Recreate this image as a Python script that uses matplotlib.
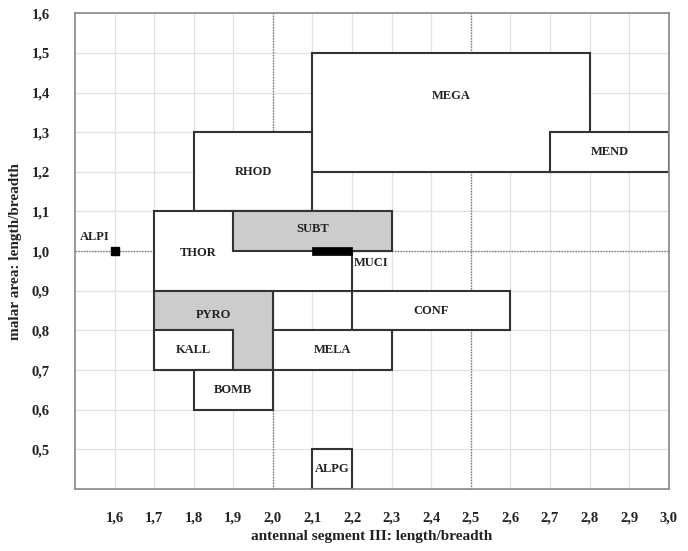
import matplotlib
matplotlib.use("Agg")
import matplotlib.pyplot as plt
from matplotlib.patches import Rectangle

plt.rcParams['font.family'] = ['Liberation Serif', 'DejaVu Serif']

# Boxes: name, x0, x1, y0, y1, fill
names = ["MEGA", "MEND", "RHOD", "THOR", "SUBT", "PYRO", "KALL", "CONF", "MELA", "BOMB", "ALPG"]
x_lo = [2.1, 2.7, 1.8, 1.7, 1.9, 1.7, 1.7, 2.2, 2.0, 1.8, 2.1]
x_hi = [2.8, 3.0, 2.1, 2.2, 2.3, 2.0, 1.9, 2.6, 2.3, 2.0, 2.2]
y_lo = [1.2, 1.2, 1.1, 0.9, 1.0, 0.7, 0.7, 0.8, 0.7, 0.6, 0.4]
y_hi = [1.5, 1.3, 1.3, 1.1, 1.1, 0.9, 0.8, 0.9, 0.8, 0.7, 0.5]
fills = ["white", "white", "white", "white", "#cccccc", "#cccccc", "white", "white", "white", "white", "white"]
label_x = [2.45, 2.85, 1.95, 1.81, 2.1, 1.85, 1.8, 2.4, 2.15, 1.9, 2.15]
label_y = [1.39, 1.25, 1.2, 0.995, 1.055, 0.84, 0.75, 0.85, 0.75, 0.65, 0.45]

# MUCI bar and ALPI point
muci_x = [2.1, 2.2]
muci_y = [0.99, 1.01]
alpi_x = [1.6]
alpi_y = [1.0]

xticks = [1.6, 1.7, 1.8, 1.9, 2.0, 2.1, 2.2, 2.3, 2.4, 2.5, 2.6, 2.7, 2.8, 2.9, 3.0]
yticks = [0.5, 0.6, 0.7, 0.8, 0.9, 1.0, 1.1, 1.2, 1.3, 1.4, 1.5, 1.6]

fig = plt.figure(figsize=(6.88, 5.51), dpi=100)
ax = fig.add_axes([0.109, 0.1125, 0.863, 0.8635])
ax.set_xlim(1.5, 3.0)
ax.set_ylim(0.4, 1.6)

# light grid
for x in [1.6 + 0.1 * i for i in range(14)]:
    ax.axvline(x, color="#e2e2e2", lw=0.9, zorder=0)
for y in [0.5 + 0.1 * i for i in range(11)]:
    ax.axhline(y, color="#e2e2e2", lw=0.9, zorder=0)
# dotted reference lines
for x in [2.0, 2.5]:
    ax.axvline(x, color="#777777", lw=1.0, ls=(0, (1, 1)), zorder=0.5)
ax.axhline(1.0, color="#777777", lw=1.0, ls=(0, (1, 1)), zorder=0.5)

for i, n in enumerate(names):
    r = Rectangle((x_lo[i], y_lo[i]), x_hi[i] - x_lo[i], y_hi[i] - y_lo[i],
                  facecolor=fills[i], edgecolor="#333333", lw=1.5, zorder=2 + i * 0.01)
    ax.add_patch(r)
    ax.text(label_x[i], label_y[i], n, ha="center", va="center", fontsize=9,
            fontweight="bold", color="#222222", zorder=5)

ax.add_patch(Rectangle((muci_x[0], muci_y[0]), muci_x[1] - muci_x[0], muci_y[1] - muci_y[0],
                       facecolor="black", edgecolor="black", lw=0.5, zorder=4))
ax.text(2.205, 0.97, "MUCI", ha="left", va="center", fontsize=9, fontweight="bold",
        color="#222222", zorder=5)

ax.plot(alpi_x, alpi_y, marker="s", ms=6, color="black", ls="none", zorder=4)
ax.text(1.55, 1.035, "ALPI", ha="center", va="center", fontsize=9, fontweight="bold",
        color="#222222", zorder=5)

ax.set_xticks(xticks)
ax.set_yticks(yticks)
ax.set_xticklabels([f"{v:.1f}".replace(".", ",") for v in xticks], fontsize=10.5, fontweight="bold", color="#222222")
ax.set_yticklabels([f"{v:.1f}".replace(".", ",") for v in yticks], fontsize=10.5, fontweight="bold", color="#222222")
ax.tick_params(axis="x", length=0, pad=16)
ax.tick_params(axis="y", length=0, pad=18)

for s in ax.spines.values():
    s.set_color("#888888")
    s.set_linewidth(1.2)

ax.set_xlabel("antennal segment III: length/breadth", fontsize=11, fontweight="bold", color="#222222", labelpad=4)
ax.set_ylabel("malar area: length/breadth", fontsize=11, fontweight="bold", color="#222222", labelpad=7)

fig.savefig("out.png", dpi=100)
